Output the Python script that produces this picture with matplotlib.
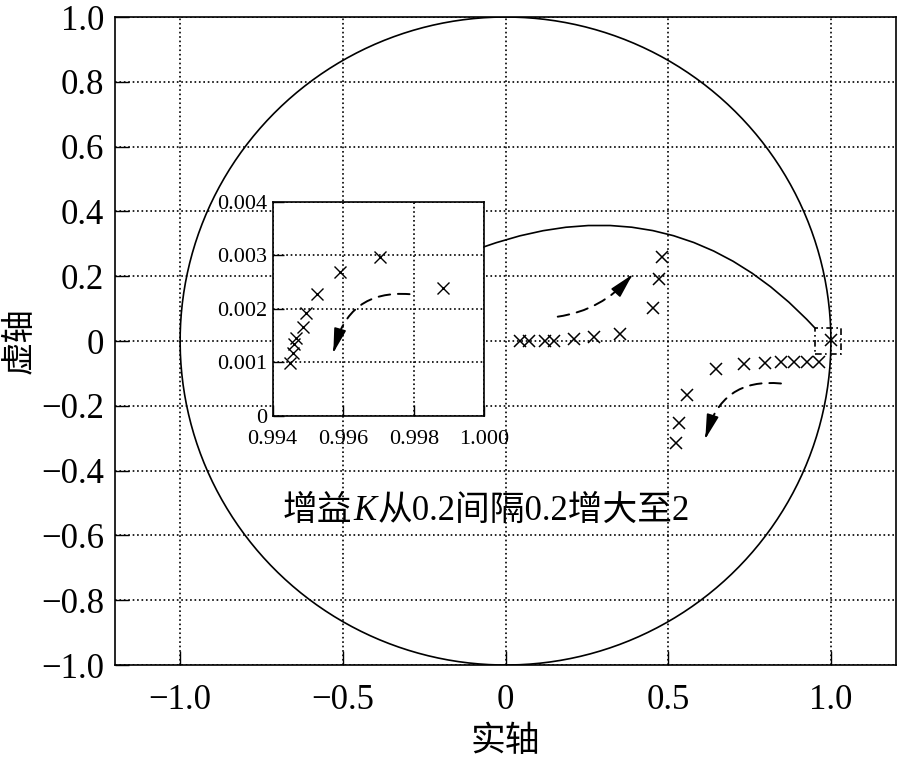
import numpy as np
import matplotlib.pyplot as plt
from matplotlib.patches import Rectangle, ConnectionPatch, FancyArrowPatch
from matplotlib.offsetbox import TextArea, HPacker, AnnotationBbox

plt.rcParams['font.family'] = ['Liberation Serif', 'Noto Sans CJK SC']
plt.rcParams['axes.unicode_minus'] = True

# closed-loop poles for K = 0.2, 0.4, ..., 2.0
branch1_re = [0.045, 0.072, 0.122, 0.150, 0.211, 0.272, 0.352, 0.452, 0.473, 0.482]
branch1_im = [0.000, 0.000, 0.000, 0.000, 0.007, 0.012, 0.022, 0.103, 0.190, 0.260]
branch2_re = [0.962, 0.927, 0.888, 0.848, 0.798, 0.732, 0.648, 0.558, 0.532, 0.523]
branch2_im = [-0.065, -0.065, -0.065, -0.066, -0.068, -0.070, -0.085, -0.168, -0.253, -0.315]
# branch close to z = 1 (shown in the inset)
branch3_re = [0.99449, 0.99457, 0.99461, 0.99466, 0.99485, 0.99494, 0.99527, 0.99591, 0.99704, 0.99884]
branch3_im = [0.000988, 0.001175, 0.00135, 0.001456, 0.00166, 0.001925, 0.002269, 0.002694, 0.002969, 0.002381]

main_xticks = [-1.0, -0.5, 0.0, 0.5, 1.0]
main_yticks = [-1.0, -0.8, -0.6, -0.4, -0.2, 0.0, 0.2, 0.4, 0.6, 0.8, 1.0]
ins_xticks = [0.994, 0.996, 0.998, 1.000]
ins_yticks = [0.0, 0.001, 0.002, 0.003, 0.004]


def fmt(v, nd):
    if abs(v) < 1e-12:
        return '0'
    return f'{v:.{nd}f}'.replace('-', '\u2212')


def dashed_arrow(a, p0, p1, rad):
    # dashed arc3 curve plus a solid head at its end
    a.add_patch(FancyArrowPatch(p0, p1, connectionstyle=f'arc3,rad={rad}',
                                arrowstyle='-', color='black', lw=1.4, ls=(0, (6, 4))))
    d0 = a.transData.transform(p0)
    d1 = a.transData.transform(p1)
    mid = (d0 + d1) / 2
    dx, dy = d1 - d0
    ctrl = mid + rad * np.array([dy, -dx])
    t = 0.85
    pt = (1 - t) ** 2 * d0 + 2 * t * (1 - t) * ctrl + t ** 2 * d1
    q = a.transData.inverted().transform(pt)
    a.add_patch(FancyArrowPatch(tuple(q), p1, arrowstyle='-|>,head_length=1.0,head_width=0.25',
                                mutation_scale=15, color='black', lw=1.2,
                                shrinkA=0, shrinkB=0))


fig = plt.figure(figsize=(9.24, 7.59), dpi=100)
ax = fig.add_axes([0.1245, 0.1238, 0.8452, 0.8538])

th = np.linspace(0, 2 * np.pi, 400)
ax.plot(np.cos(th), np.sin(th), color='black', lw=1.2)

mk = dict(ls='none', marker='x', color='black', ms=9, mew=1.1)
ax.plot(branch1_re, branch1_im, **mk)
ax.plot(branch2_re, branch2_im, **mk)
ax.plot(branch3_re[-1:], branch3_im[-1:], **mk)

ax.set_xlim(-1.2, 1.2)
ax.set_ylim(-1.0, 1.0)
ax.set_xticks(main_xticks)
ax.set_yticks(main_yticks)
ax.set_xticklabels([fmt(v, 1) for v in main_xticks])
ax.set_yticklabels([fmt(v, 1) for v in main_yticks])
ax.tick_params(direction='in', length=10, width=1.0, labelsize=25, pad=8)
ax.tick_params(axis='x', pad=14)
ax.grid(True, color='black', ls=':', lw=1.2)
for s in ax.spines.values():
    s.set_linewidth(1.2)
ax.set_xlabel('实轴', fontsize=25, labelpad=6)
ax.set_ylabel('虚轴', fontsize=24, labelpad=4)

# zoom box around z = 1
rect = Rectangle((0.952, -0.039), 0.080, 0.078, fill=False, ec='black', lw=1.2,
                 ls=(0, (4, 2, 1, 2)), zorder=4)
ax.add_patch(rect)

# annotation text with italic K
parts = [TextArea('增益', textprops=dict(fontsize=25)),
         TextArea('K', textprops=dict(fontsize=25, style='italic', family='Liberation Serif')),
         TextArea('从0.2间隔0.2增大至2', textprops=dict(fontsize=25))]
box = HPacker(children=parts, align='baseline', pad=0, sep=1)
ax.add_artist(AnnotationBbox(box, (-0.06, -0.526), frameon=False, box_alignment=(0.5, 0.5)))

# direction arrows
dashed_arrow(ax, (0.152, 0.074), (0.390, 0.205), 0.2)
dashed_arrow(ax, (0.855, -0.132), (0.614, -0.302), 0.45)

# inset
axins = fig.add_axes([0.2951, 0.4519, 0.229, 0.2823])
axins.plot(branch3_re, branch3_im, ls='none', marker='x', color='black', ms=8, mew=1.0)
axins.set_xlim(0.994, 1.000)
axins.set_ylim(0.0, 0.004)
axins.set_xticks(ins_xticks)
axins.set_yticks(ins_yticks)
axins.set_xticklabels([fmt(v, 3) for v in ins_xticks])
axins.set_yticklabels([fmt(v, 3) for v in ins_yticks])
axins.tick_params(direction='in', length=8, width=1.0, labelsize=16)
axins.tick_params(axis='x', pad=10)
axins.tick_params(axis='y', pad=4)
axins.grid(True, color='black', ls=':', lw=1.2)
for s in axins.spines.values():
    s.set_linewidth(1.2)
dashed_arrow(axins, (0.99796, 0.00227), (0.99572, 0.00118), 0.45)

con = ConnectionPatch(xyA=(1.0, 0.79), coordsA=axins.transAxes,
                      xyB=(0.952, 0.039), coordsB=ax.transData,
                      connectionstyle='arc3,rad=-0.33', color='black', lw=1.2)
fig.add_artist(con)

fig.savefig('out.png', dpi=100)
